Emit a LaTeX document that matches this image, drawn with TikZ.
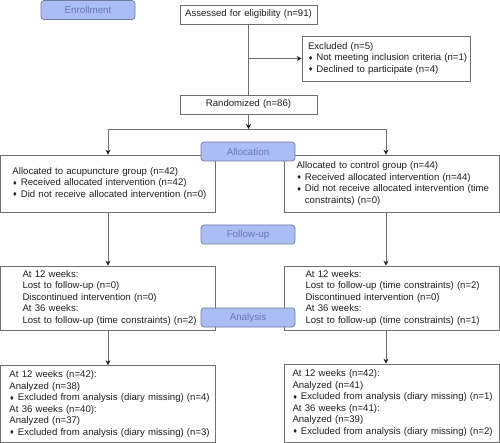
\documentclass[tikz,border=0pt]{standalone}
\usepackage{fontspec}
\setmainfont{Liberation Sans}
\newfontfamily\bulletfont{DejaVu Sans}
\usetikzlibrary{arrows.meta, positioning}
\definecolor{linegray}{RGB}{110,110,110}
\definecolor{tipgray}{RGB}{30,30,30}
\definecolor{textgray}{RGB}{30,30,30}
\definecolor{stagefill}{RGB}{170,190,245}
\definecolor{stageedge}{RGB}{112,124,158}
\definecolor{stagetext}{RGB}{100,120,178}
\newcommand{\dmd}{{\bulletfont\fontsize{5.8}{5.8}\selectfont\raisebox{0.6pt}{♦}}\space}
\tikzstyle{box} = [rectangle, draw=linegray, line width=0.7pt, fill=white, text=textgray, inner xsep=0pt, inner ysep=0pt, align=left, font=\fontsize{9.6}{11.5}\selectfont]
\tikzstyle{cbox} = [box, align=center, text width=137pt, minimum height=19pt]
\tikzstyle{stage} = [rectangle, rounded corners=3pt, draw=stageedge, line width=0.7pt, fill=stagefill, text=stagetext, minimum width=94pt, minimum height=19pt, font=\fontsize{9.8}{11.5}\selectfont]
\tikzstyle{lpad} = [execute at begin node={\leftskip=#1\relax}]
\tikzstyle{arrow} = [-{Stealth[length=5pt,width=5pt,color=tipgray]}, draw=linegray, line width=0.7pt]
\tikzstyle{line} = [-, draw=linegray, line width=0.7pt]
\begin{document}
\begin{tikzpicture}[x=1pt, y=-1pt]

    \useasboundingbox (0, 0) rectangle (500, 443);

    \node (enroll) [stage] at (88, 10) {Enrollment};

    \node (assess) [cbox] at (248.5, 14.5) {Assessed for eligibility (n=91)};
    \node (excl) [box, text width=168pt, minimum height=45pt, lpad=6pt] at (386, 58.5) {Excluded (n=5)\\ \dmd Not meeting inclusion criteria (n=1)\\ \dmd Declined to participate (n=4)};
    \node (rand) [cbox] at (248.5, 104.5) {Randomized (n=86)};

    \coordinate (split) at (248.5, 129);
    \coordinate (splitL) at (108, 129);
    \coordinate (splitR) at (386, 129);

    \node (allocL) [box, text width=215pt, minimum height=57pt, lpad=12pt] at (108, 183.5) {Allocated to acupuncture group (n=42)\\ \dmd Received allocated intervention (n=42)\\ \dmd Did not receive allocated intervention (n=0)};
    \node (allocR) [box, text width=215pt, minimum height=57pt, lpad=12pt] at (392, 183.5) {Allocated to control group (n=44)\\ \dmd Received allocated intervention (n=44)\\ \dmd Did not receive allocated intervention (time\\ \phantom{\dmd}constraints) (n=0)};

    \node (fuL) [box, text width=215pt, minimum height=64pt, lpad=22pt] at (108, 298) {At 12 weeks:\\ Lost to follow-up (n=0)\\ Discontinued intervention (n=0)\\ At 36 weeks:\\ Lost to follow-up (time constraints) (n=2)};
    \node (fuR) [box, text width=215pt, minimum height=64pt, lpad=21pt] at (392, 298) {At 12 weeks:\\ Lost to follow-up (time constraints) (n=2)\\ Discontinued intervention (n=0)\\ At 36 weeks:\\ Lost to follow-up (time constraints) (n=1)};

    \node (anL) [box, text width=215pt, minimum height=77pt, lpad=9pt] at (108, 404) {At 12 weeks (n=42):\\ Analyzed (n=38)\\ \dmd Excluded from analysis (diary missing) (n=4)\\ At 36 weeks (n=40):\\ Analyzed (n=37)\\ \dmd Excluded from analysis (diary missing) (n=3)};
    \node (anR) [box, text width=215pt, minimum height=78pt, lpad=8pt] at (392, 403) {At 12 weeks (n=42):\\ Analyzed (n=41)\\ \dmd Excluded from analysis (diary missing) (n=1)\\ At 36 weeks (n=41):\\ Analyzed (n=39)\\ \dmd Excluded from analysis (diary missing) (n=2)};

    \draw [line] (assess) -- (rand);
    \draw [arrow] (assess.south |- excl.west) -- (excl.west);
    \draw [arrow] (rand) -- (split);
    \draw [line] (splitL) -- (splitR);

    \draw [arrow] (splitL) -- (splitL |- allocL.north);
    \draw [arrow] (splitR) -- (splitR |- allocR.north);
    \draw [arrow] (splitL |- allocL.south) -- (splitL |- fuL.north);
    \draw [arrow] (splitR |- allocR.south) -- (splitR |- fuR.north);
    \draw [arrow] (splitL |- fuL.south) -- (splitL |- anL.north);
    \draw [arrow] (splitR |- fuR.south) -- (splitR |- anR.north);

    \node (allocation) [stage] at (248, 151.5) {Allocation};
    \node (followup) [stage] at (248, 234.5) {Follow-up};
    \node (analysis) [stage] at (248, 317.5) {Analysis};

\end{tikzpicture}
\end{document}
